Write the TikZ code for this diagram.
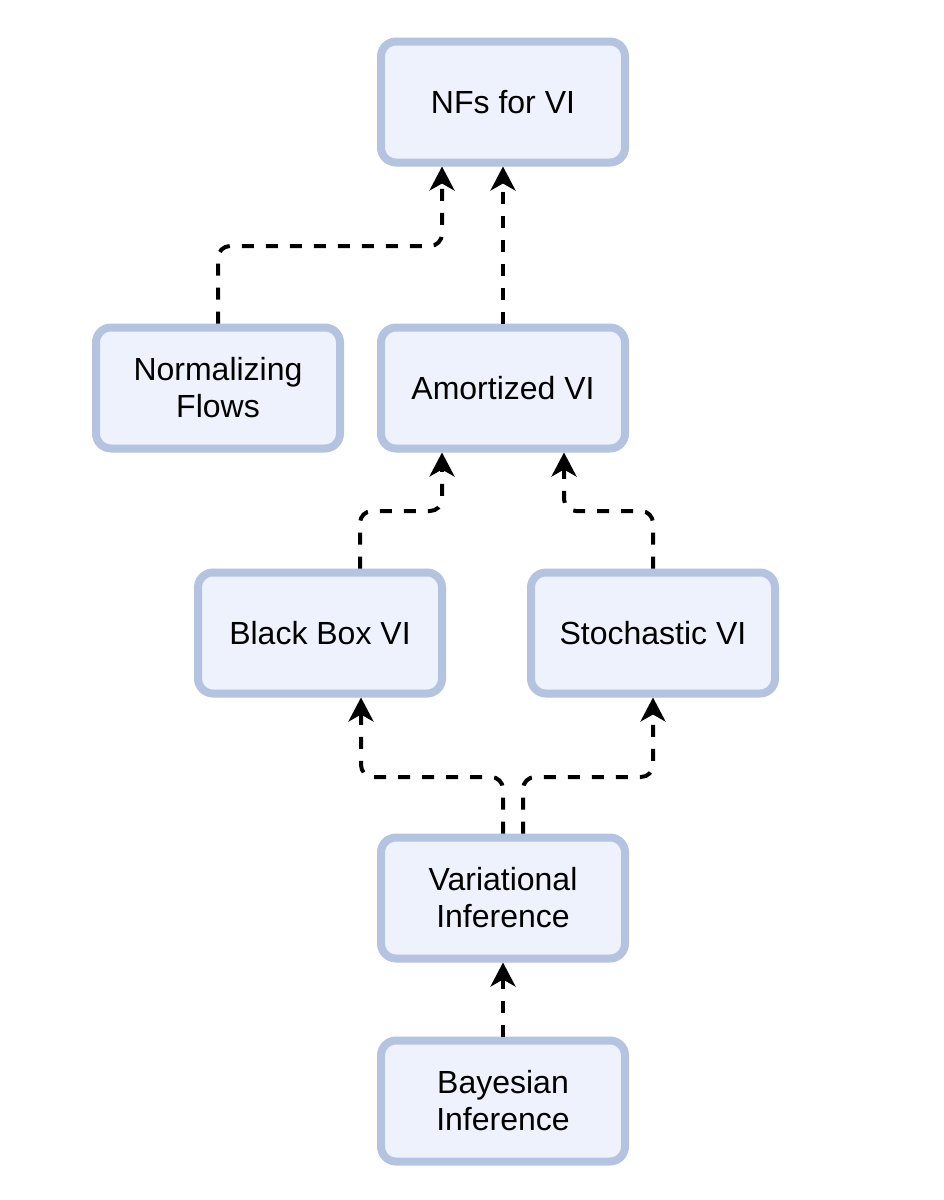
\documentclass[tikz,border=0pt]{standalone}
\usepackage{fontspec}
\setmainfont{Liberation Sans}
\usetikzlibrary{arrows.meta,calc}
\definecolor{boxfill}{HTML}{EEF2FC}
\definecolor{boxline}{HTML}{B4C3DF}
\tikzset{
  box/.style={draw=boxline, fill=boxfill, line width=8pt, rounded corners=15pt,
    minimum width=244pt, minimum height=121pt, inner sep=0pt, align=center,
    font=\fontsize{32}{37}\selectfont, text=black},
  conn/.style={draw=black, line width=4pt, dash pattern=on 12pt off 12pt,
    rounded corners=12pt, -{Stealth[length=24pt,width=25pt,inset=7pt]}}
}
\begin{document}
\begin{tikzpicture}[x=1pt,y=-1pt]
\useasboundingbox[fill=white] (0,0) rectangle (943,1200);
\node[box] (nf) at (503,102) {NFs for VI};
\node[box] (norm) at (218,388) {Normalizing\\Flows};
\node[box] (amort) at (503,388) {Amortized VI};
\node[box] (bb) at (320,633) {Black Box VI};
\node[box] (svi) at (653,633) {Stochastic VI};
\node[box] (vi) at (503,898) {Variational\\Inference};
\node[box] (bi) at (503,1101) {Bayesian\\Inference};

\draw[conn] (bi.north) -- (vi.south);
\draw[conn] (vi.north) -- (vi.north |- 0,777) -| ([xshift=41pt]bb.south);
\draw[conn] ([xshift=20pt]vi.north) -- ([xshift=20pt]vi.north |- 0,777) -| (svi.south);
\draw[conn] ([xshift=40pt]bb.north) -- ([xshift=40pt]bb.north |- 0,511) -| ([xshift=-61pt]amort.south);
\draw[conn] (svi.north) -- (svi.north |- 0,511) -| ([xshift=61pt]amort.south);
\draw[conn] (norm.north) -- (norm.north |- 0,246) -| ([xshift=-61pt]nf.south);
\draw[conn] (amort.north) -- (nf.south);
\end{tikzpicture}
\end{document}
